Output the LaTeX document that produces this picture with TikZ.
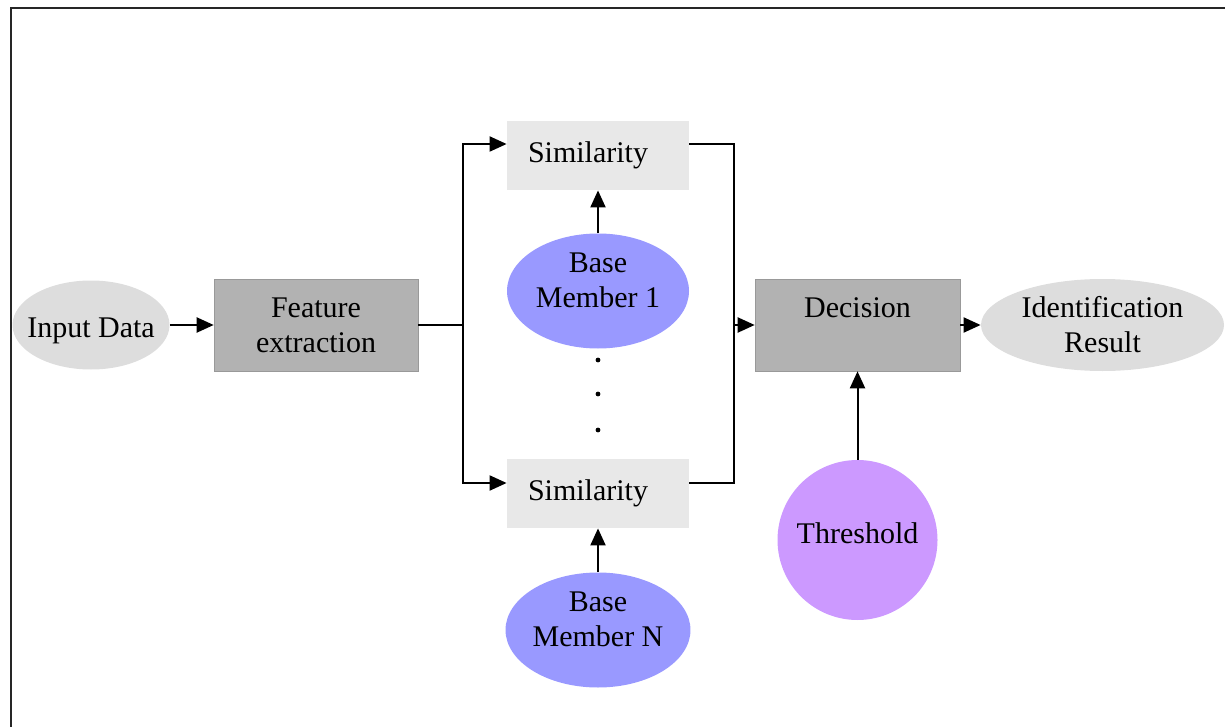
\documentclass[tikz,border=0pt]{standalone}
\usepackage{fontspec}
\setmainfont{Liberation Serif}
\usetikzlibrary{arrows.meta,shapes.geometric}

\definecolor{ovalgray}{HTML}{DDDDDD}
\definecolor{boxgray}{HTML}{B2B2B2}
\definecolor{simgray}{HTML}{E8E8E8}
\definecolor{basefill}{HTML}{9999FF}
\definecolor{threshfill}{HTML}{CC99FF}

\begin{document}
\begin{tikzpicture}[x=0.5pt, y=-0.5pt,
    font=\fontsize{15}{17.5}\selectfont,
    arr/.style={-{Triangle[length=8.5pt,width=7.5pt]}, line width=1pt},
    link/.style={line width=1pt},
    oval/.style={ellipse, fill=ovalgray, inner sep=0pt, align=center},
    block/.style={rectangle, fill=boxgray, draw=gray!80, line width=0.3pt,
      minimum width=102pt, minimum height=46pt, inner sep=0pt, align=center},
    simbox/.style={rectangle, fill=simgray, minimum height=34.5pt,
      text width=70pt, inner xsep=10.5pt, align=left},
    member/.style={ellipse, fill=basefill, minimum width=91pt,
      minimum height=57.5pt, inner sep=0pt, text depth=11pt, align=center}]

          \useasboundingbox (0,0) rectangle (1225,727);
          \clip (0,0) rectangle (1225,727);

          % outer frame
          \draw[line width=1.2pt, draw=black!85] (11,8) rectangle (1260,760);

          \node[oval, inner xsep=-5pt, text height=15.5pt, minimum width=78.5pt, minimum height=44.5pt] (input) at (91,325) {Input Data};
          \node[block] (feat) at (316,325) {Feature\\extraction};
          \node[simbox] (sim1) at (598,155.5) {Similarity};
          \node[simbox] (sim2) at (598,493.5) {Similarity};
          \node[member] (base1) at (598,291) {Base\\Member 1};
          \node[member] (baseN) at (598,630) {Base\\Member N};
          \node[block, minimum width=102.5pt] (dec) at (857.5,325) {Decision\\\mbox{}};
          \node[oval, minimum width=121.5pt, minimum height=46pt] (result) at (1102.5,325) {Identification\\Result};
          \node[circle, fill=threshfill, minimum size=80pt, inner sep=0pt, text depth=7pt] (thresh) at (857.5,540) {Threshold};

          \coordinate (split) at (463,325);
          \coordinate (join) at (734,325);

          \draw[arr] (input) -- (feat);
          \draw[link] (feat) -- (split);
          \draw[arr] (split) |- ([yshift=5.75pt]sim1.west);
          \draw[arr] (split) |- ([yshift=5.25pt]sim2.west);
          \draw[link] ([yshift=5.75pt]sim1.east) -| (join);
          \draw[link] ([yshift=5.25pt]sim2.east) -| (join);
          \draw[arr] (join) -- (dec);
          \draw[arr] (dec) -- (result);
          \draw[arr] (base1) -- (sim1);
          \draw[arr] (baseN) -- (sim2);
          \draw[arr] (thresh) -- (dec);

          \fill (598,360) circle (1.2pt);
          \fill (598,394) circle (1.2pt);
          \fill (598,430) circle (1.2pt);
        \end{tikzpicture}
\end{document}
